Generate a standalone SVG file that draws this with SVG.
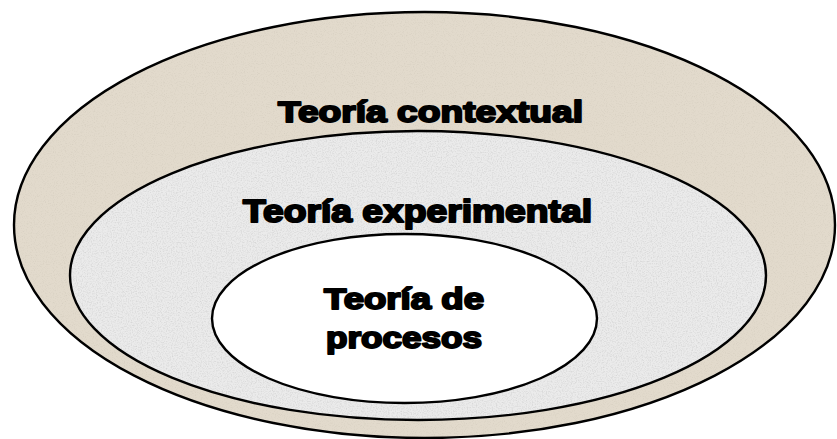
<svg xmlns="http://www.w3.org/2000/svg" width="837" height="439" viewBox="0 0 837 439">
  <defs>
    <filter id="grainBeige" x="0" y="0" width="100%" height="100%">
      <feTurbulence type="fractalNoise" baseFrequency="0.9" numOctaves="2" seed="3" result="n"/>
      <feColorMatrix in="n" type="matrix" values="0 0 0 0 0.55  0 0 0 0 0.5  0 0 0 0 0.42  0 0 0 -0.9 0.45" result="spk"/>
      <feComposite in="spk" in2="SourceGraphic" operator="in" result="spk2"/>
      <feMerge><feMergeNode in="SourceGraphic"/><feMergeNode in="spk2"/></feMerge>
    </filter>
    <filter id="grainGray" x="0" y="0" width="100%" height="100%">
      <feTurbulence type="fractalNoise" baseFrequency="0.8" numOctaves="2" seed="7" result="n"/>
      <feColorMatrix in="n" type="matrix" values="0 0 0 0 0.55  0 0 0 0 0.55  0 0 0 0 0.55  0 0 0 -1.2 0.7" result="spk"/>
      <feComposite in="spk" in2="SourceGraphic" operator="in" result="spk2"/>
      <feMerge><feMergeNode in="SourceGraphic"/><feMergeNode in="spk2"/></feMerge>
    </filter>
  </defs>
  <style>
    .ring { stroke: #000; stroke-width: 2.4; }
    .lbl { font-family: "Liberation Sans", Arial, sans-serif; font-weight: bold; fill: #000; stroke: #000; stroke-width: 2; stroke-linejoin: round; text-anchor: middle; }
  </style>
  <rect width="837" height="439" fill="#ffffff"/>
  <g id="contextual">
    <ellipse cx="424.5" cy="225" rx="410.5" ry="213" fill="#E2DACC" filter="url(#grainBeige)"/>
    <ellipse class="ring" cx="424.5" cy="225" rx="410.5" ry="213" fill="none"/>
    <text class="lbl" x="430.5" y="122" font-size="30" textLength="305" lengthAdjust="spacingAndGlyphs">Teoría contextual</text>
  </g>
  <g id="experimental">
    <ellipse cx="418" cy="275.5" rx="348" ry="144.5" fill="#EBEBEB" filter="url(#grainGray)"/>
    <ellipse class="ring" cx="418" cy="275.5" rx="348" ry="144.5" fill="none"/>
    <text class="lbl" x="417.5" y="222" font-size="31" textLength="349" lengthAdjust="spacingAndGlyphs">Teoría experimental</text>
  </g>
  <g id="procesos">
    <ellipse class="ring" cx="404.5" cy="318.5" rx="192.5" ry="84.5" fill="#ffffff"/>
    <text class="lbl" x="404" y="309" font-size="30" textLength="160" lengthAdjust="spacingAndGlyphs">Teoría de</text>
    <text class="lbl" x="404" y="348" font-size="30" textLength="156" lengthAdjust="spacingAndGlyphs">procesos</text>
  </g>
  <g id="connectors"></g>
</svg>
